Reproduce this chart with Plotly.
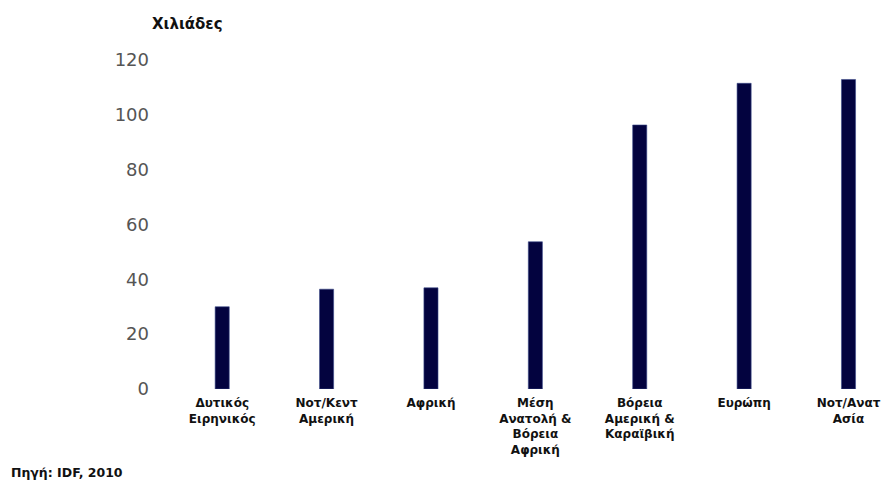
import plotly.graph_objects as go

# Regions (labels as shown under each bar)
regions = [
    "Δυτικός<br>Ειρηνικός",
    "Νοτ/Κεντ<br>Αμερική",
    "Αφρική",
    "Μέση<br>Ανατολή &<br>Βόρεια<br>Αφρική",
    "Βόρεια<br>Αμερική &<br>Καραϊβική",
    "Ευρώπη",
    "Νοτ/Ανατ<br>Ασία",
]
# Values in thousands
values = [30.0, 36.4, 36.9, 53.7, 96.3, 111.5, 112.9]
y_ticks = [0, 20, 40, 60, 80, 100, 120]

W, H = 884, 482
left, right, top, bottom = 170, 0, 60, 93


def bold_lines(label):
    return "<br>".join("<b>%s</b>" % part for part in label.split("<br>"))


fig = go.Figure(
    go.Bar(
        x=regions,
        y=values,
        width=0.135,
        marker=dict(color="#03033f", line=dict(color="#3a4a8a", width=0.6)),
    )
)

fig.update_layout(
    width=W,
    height=H,
    margin=dict(l=left, r=right, t=top, b=bottom),
    plot_bgcolor="white",
    paper_bgcolor="white",
    showlegend=False,
    xaxis=dict(
        type="category",
        range=[-0.5, 6.34],
        tickvals=regions,
        ticktext=[bold_lines(r) for r in regions],
        showgrid=False,
        showline=False,
        zeroline=False,
        ticks="",
        ticklabelstandoff=5,
        tickfont=dict(family="DejaVu Sans", size=12, color="#111111"),
        tickangle=0,
    ),
    yaxis=dict(
        range=[0, 120],
        tickvals=y_ticks,
        showgrid=False,
        showline=False,
        zeroline=False,
        ticks="",
        ticklabelstandoff=20,
        tickfont=dict(family="DejaVu Sans", size=18, color="#555555"),
    ),
    annotations=[
        dict(
            text="<b>Χιλιάδες</b>",
            xref="paper", yref="paper",
            x=(150 - left) / (W - left - right),
            y=1 + (top - 24) / (H - top - bottom),
            xanchor="left", yanchor="middle",
            showarrow=False,
            font=dict(family="DejaVu Sans", size=15, color="#111111"),
        ),
        dict(
            text="<b>Πηγή: IDF, 2010</b>",
            xref="paper", yref="paper",
            x=(9 - left) / (W - left - right),
            y=-(472 - (H - bottom)) / (H - top - bottom),
            xanchor="left", yanchor="middle",
            showarrow=False,
            font=dict(family="DejaVu Sans", size=12.5, color="#111111"),
        ),
    ],
)

fig.write_html("out.html")
